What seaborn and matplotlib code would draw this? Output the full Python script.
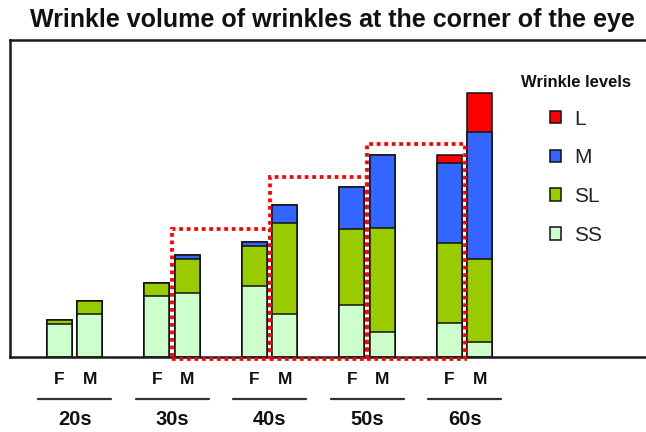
import matplotlib
matplotlib.use("Agg")
import matplotlib.pyplot as plt
from matplotlib.patches import Patch, Rectangle
import pandas as pd
import seaborn as sns

# Wrinkle volume per age group and sex, split by wrinkle level (arbitrary units)
ages = ["20s", "30s", "40s", "50s", "60s"]
sexes = ["F", "M"]
levels = ["SS", "SL", "M", "L"]
ss_f = [33, 61, 71, 52, 34]
ss_m = [43, 64, 43, 25, 15]
sl_f = [4, 13, 40, 76, 80]
sl_m = [13, 34, 91, 104, 83]
m_f = [0, 0, 4, 42, 80]
m_m = [0, 4, 18, 73, 127]
l_f = [0, 0, 0, 0, 8]
l_m = [0, 0, 0, 0, 39]
# tops of the dotted boxes pairing M of one decade with F of the next
highlight_tops = [128, 180, 213]

colors = {"L": "#FF0000", "M": "#3366FF", "SL": "#99CC00", "SS": "#CCFFCC"}

values = {
    ("F", "SS"): ss_f, ("M", "SS"): ss_m,
    ("F", "SL"): sl_f, ("M", "SL"): sl_m,
    ("F", "M"): m_f, ("M", "M"): m_m,
    ("F", "L"): l_f, ("M", "L"): l_m,
}

rows = []
for sex in sexes:
    for i, age in enumerate(ages):
        cum = 0
        for lvl in levels:
            cum += values[(sex, lvl)][i]
            rows.append({"age": age, "sex": sex, "level": lvl, "cum": cum})
df = pd.DataFrame(rows)

sns.set_theme(style="white")
plt.rcParams["font.family"] = ["Liberation Sans", "DejaVu Sans"]

W, H = 646, 432
fig = plt.figure(figsize=(W / 100, H / 100), dpi=100)
ax = fig.add_axes([10 / W, (H - 357) / H, 636 / W, 317 / H])

bar_width = 0.625
bar_gap = 0.18
# stacked bars: draw cumulative totals from the top level down
for lvl in reversed(levels):
    sub = df[df["level"] == lvl]
    sns.barplot(data=sub, x="age", y="cum", hue="sex", order=ages,
                hue_order=sexes, palette=[colors[lvl]] * 2, saturation=1,
                dodge=True, width=bar_width, gap=bar_gap, errorbar=None,
                legend=False, edgecolor="#111111", linewidth=1.1, ax=ax,
                zorder=2)

ax.set_xlim(-0.664, 5.86)
ax.set_ylim(0, 317)
ax.set_xlabel("")
ax.set_ylabel("")
ax.set_xticks([])
ax.set_yticks([])
for side in ["left", "top", "bottom"]:
    ax.spines[side].set_color("#1a1a1a")
    ax.spines[side].set_linewidth(1.8)
ax.spines["right"].set_visible(False)

# dotted highlight boxes
for i, top in enumerate(highlight_tops):
    x0 = i + 1
    rect = Rectangle((x0, -1.5), 1.0, top + 1.5, fill=False,
                     edgecolor="#FF0000", linewidth=2.7,
                     linestyle=(0, (1, 1)), zorder=5, clip_on=False)
    ax.add_patch(rect)

# category labels below the axis
tr = ax.get_xaxis_transform()
off = bar_width / 4
for i, age in enumerate(ages):
    for s, sex in enumerate(sexes):
        ax.text(i + (off if s else -off), -0.072, sex, transform=tr,
                ha="center", va="center", fontsize=12.5, fontweight="bold",
                color="#111111")
    ax.plot([i - 0.375, i + 0.375], [-0.133, -0.133], transform=tr,
            color="#333333", linewidth=1.6, clip_on=False)
    ax.text(i, -0.196, age, transform=tr, ha="center", va="center",
            fontsize=14.5, fontweight="bold", color="#111111")

fig.text(0.515, 0.954, "Wrinkle volume of wrinkles at the corner of the eye",
         ha="center", va="center", fontsize=18, fontweight="bold",
         color="#111111")

handles = [Patch(facecolor=colors[l], edgecolor="#111111", linewidth=1.1)
           for l in ["L", "M", "SL", "SS"]]
leg = ax.legend(handles, ["L", "M", "SL", "SS"], title="Wrinkle levels",
                loc="upper center", bbox_to_anchor=(576 / W, 1 - 56 / H),
                bbox_transform=fig.transFigure, frameon=False, fontsize=15,
                title_fontproperties={"weight": "bold", "size": 12},
                handlelength=0.55, handleheight=0.55, labelspacing=0.95,
                handletextpad=0.6)
leg.get_title().set_color("#111111")
for t in leg.get_texts():
    t.set_color("#222222")

fig.savefig("out.png", dpi=100)
